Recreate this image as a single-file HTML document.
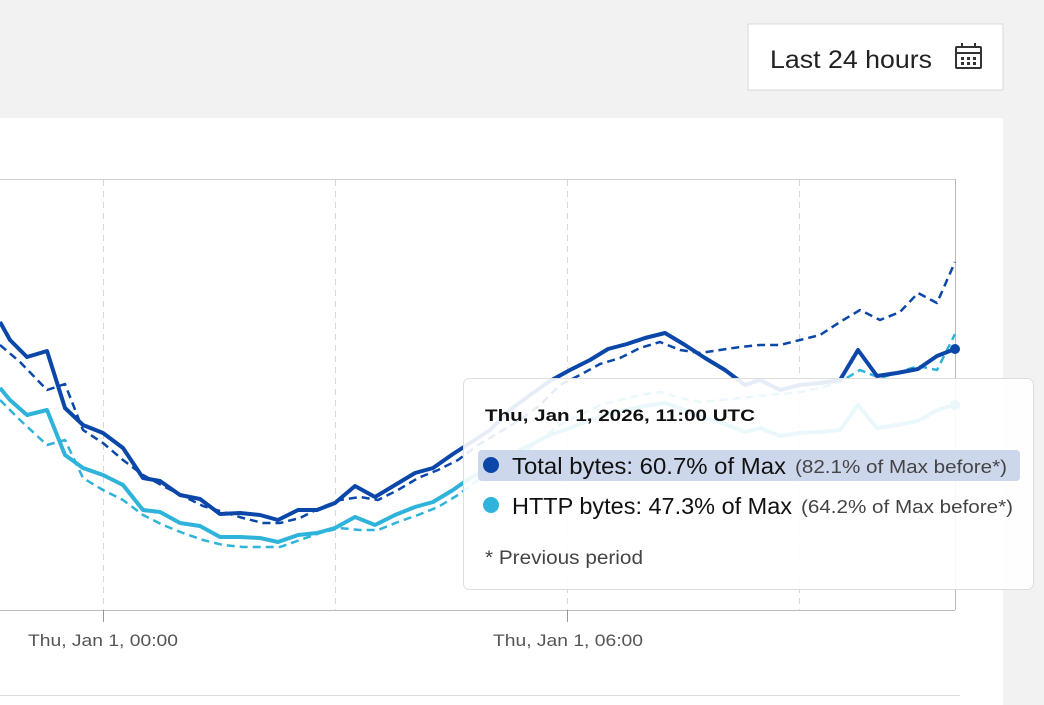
<!DOCTYPE html>
<html><head><style>
html,body{margin:0;padding:0;width:1044px;height:705px;overflow:hidden;background:#f2f2f2;font-family:"Liberation Sans",sans-serif}
</style></head><body>
<svg width="1044" height="705" xmlns="http://www.w3.org/2000/svg" style="position:absolute;left:0;top:0">
<rect x="0" y="0" width="1044" height="705" fill="#f2f2f2"/>
<rect x="748" y="24" width="255" height="66" fill="#fff" stroke="#d8d8d8"/>
<text x="770" y="68" font-size="25" fill="#222" textLength="162" lengthAdjust="spacingAndGlyphs">Last 24 hours</text>
<g stroke="#333" stroke-width="2" fill="none">
<rect x="956" y="47" width="25" height="21" rx="1"/>
<line x1="956" y1="53" x2="981" y2="53"/>
<line x1="962" y1="43" x2="962" y2="48"/><line x1="975" y1="43" x2="975" y2="48"/>
</g>
<g fill="#333"><rect x="961" y="57" width="3" height="3"/><rect x="967" y="57" width="3" height="3"/><rect x="973" y="57" width="3" height="3"/><rect x="961" y="62" width="3" height="3"/><rect x="967" y="62" width="3" height="3"/><rect x="973" y="62" width="3" height="3"/></g>
<rect x="0" y="118" width="1003" height="587" fill="#fff"/>
<line x1="0" y1="179.5" x2="955" y2="179.5" stroke="#d0d0d0"/>
<line x1="955.5" y1="179" x2="955.5" y2="610" stroke="#bbb"/>
<g stroke="#d8d8d8" stroke-dasharray="6,5">
<line x1="103.5" y1="180" x2="103.5" y2="610"/><line x1="335.5" y1="180" x2="335.5" y2="610"/>
<line x1="567.5" y1="180" x2="567.5" y2="610"/><line x1="799.5" y1="180" x2="799.5" y2="610"/>
</g>
<line x1="0" y1="610.5" x2="955" y2="610.5" stroke="#bbb"/>
<line x1="103.5" y1="610" x2="103.5" y2="622" stroke="#999"/>
<line x1="567.5" y1="610" x2="567.5" y2="622" stroke="#999"/>
<text x="28" y="646" font-size="17" fill="#555" textLength="150" lengthAdjust="spacingAndGlyphs">Thu, Jan 1, 00:00</text>
<text x="493" y="646" font-size="17" fill="#555" textLength="150" lengthAdjust="spacingAndGlyphs">Thu, Jan 1, 06:00</text>
<line x1="0" y1="695.5" x2="960" y2="695.5" stroke="#ddd"/>
<g fill="none" stroke-linejoin="round">
<polyline stroke="#2fb3db" stroke-width="2.5" stroke-dasharray="8,5" points="0,400 20,420 47,445 65,440 83,478 103,490 123,500 143,515 163,525 183,533 203,540 223,545 243,547 263,547 280,547 300,540 320,533 340,528 360,530 378,530 398,522 418,515 438,507 458,495 478,480 498,468 520,455 540,440 560,425 580,415 600,405 620,400 640,395 660,392 680,398 700,402 720,400 740,398 760,396 780,394 800,392 820,388 840,382 860,370 880,378 900,372 918,366 937,370 955,334"/>
<polyline stroke="#2fb3db" stroke-width="4" points="0,388 10,400 27,415 47,410 65,455 83,468 103,475 123,485 143,510 160,512 180,523 200,526 220,537 240,537 260,538 278,542 298,535 317,533 335,528 355,517 375,525 395,515 415,507 433,502 453,490 470,478 490,468 510,455 530,445 550,435 570,428 590,420 608,414 627,410 645,406 665,403 685,410 705,418 725,424 745,432 760,428 780,436 800,433 820,432 840,430 858,405 877,428 897,425 918,421 937,410 955,405"/>
<polyline stroke="#0a47a8" stroke-width="2.5" stroke-dasharray="8,5" points="0,345 20,362 47,390 65,384 83,430 103,443 123,460 143,475 163,486 183,496 203,506 223,512 243,518 263,523 280,523 300,518 320,508 340,500 360,497 378,500 398,490 418,478 438,470 458,460 478,445 498,433 520,420 540,405 560,385 580,375 600,364 620,358 640,348 660,342 680,350 700,353 720,350 740,347 760,345 780,345 800,340 820,335 840,322 860,310 880,320 900,312 918,293 937,303 955,262"/>
<polyline stroke="#0a47a8" stroke-width="4" points="0,322 10,340 27,357 47,351 65,408 83,425 103,433 123,448 143,478 160,481 180,495 200,499 220,514 240,513 260,515 278,520 298,510 317,510 335,503 355,486 375,497 395,485 415,473 433,468 453,454 470,443 490,430 510,410 530,395 550,381 570,370 590,360 608,349 627,344 645,338 665,333 685,345 705,358 725,370 745,385 760,380 780,390 800,385 820,383 840,380 858,350 877,376 897,373 918,369 937,356 955,349"/>
</g>
<circle cx="955" cy="349" r="5" fill="#0a47a8"/>
<circle cx="955" cy="405" r="5" fill="#2fb3db"/>
<rect x="1003" y="118" width="41" height="587" fill="#f2f2f2"/>
<rect x="463.5" y="378.5" width="570" height="211" rx="6" fill="rgba(255,255,255,0.9)" stroke="#ddd"/>
<text x="485" y="421" font-size="17" font-weight="bold" fill="#111" textLength="270" lengthAdjust="spacingAndGlyphs">Thu, Jan 1, 2026, 11:00 UTC</text>
<rect x="478" y="450" width="542" height="31" rx="4" fill="#cdd7ec"/>
<circle cx="491" cy="465" r="8" fill="#0a47a8"/>
<text x="512" y="474" font-size="23" fill="#111" textLength="274" lengthAdjust="spacingAndGlyphs">Total bytes: 60.7% of Max</text>
<text x="795" y="473" font-size="18" fill="#444" textLength="212" lengthAdjust="spacingAndGlyphs">(82.1% of Max before*)</text>
<circle cx="491" cy="505" r="8" fill="#2fb3db"/>
<text x="512" y="514" font-size="23" fill="#111" textLength="280" lengthAdjust="spacingAndGlyphs">HTTP bytes: 47.3% of Max</text>
<text x="801" y="513" font-size="18" fill="#444" textLength="212" lengthAdjust="spacingAndGlyphs">(64.2% of Max before*)</text>
<text x="485" y="564" font-size="19" fill="#444" textLength="158" lengthAdjust="spacingAndGlyphs">* Previous period</text>
</svg>
</body></html>
